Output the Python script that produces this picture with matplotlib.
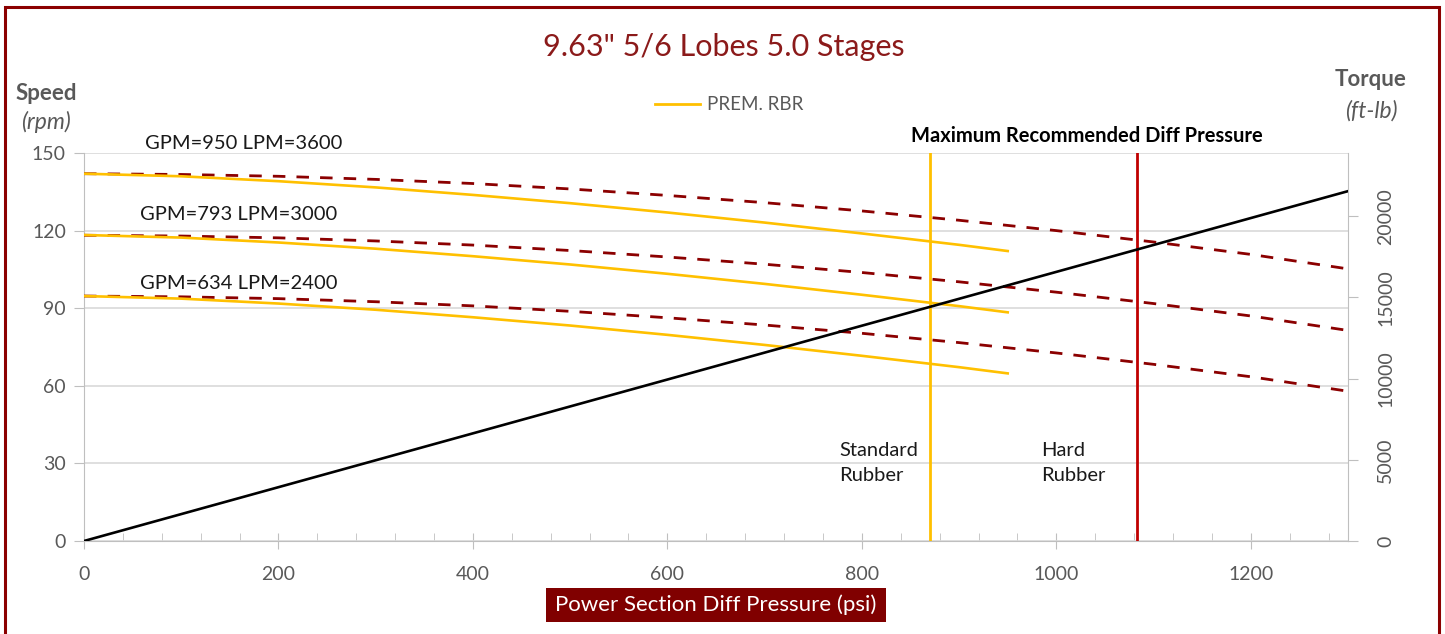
import matplotlib
matplotlib.use("Agg")
import matplotlib.pyplot as plt
from matplotlib.patches import Rectangle
from matplotlib.lines import Line2D
from matplotlib.ticker import MultipleLocator

# ---------------- data ----------------
pressure_full = [0, 100, 200, 300, 400, 500, 600, 700, 800, 900, 1000, 1100, 1200, 1300]
pressure_std = [0, 100, 200, 300, 400, 500, 600, 700, 800, 900, 950]

# hard rubber (dashed) speed curves, rpm
hard_950 = [142.0, 141.7, 141.0, 139.8, 138.2, 136.1, 133.6, 130.8, 127.6, 124.0, 120.0, 115.6, 110.8, 105.2]
hard_793 = [118.2, 117.9, 117.2, 116.0, 114.4, 112.3, 109.8, 107.0, 103.8, 100.2, 96.2, 91.8, 87.0, 81.4]
hard_634 = [94.7, 94.4, 93.7, 92.5, 90.9, 88.8, 86.3, 83.5, 80.3, 76.7, 72.7, 68.3, 63.5, 57.9]

# premium rubber (solid yellow) speed curves, rpm
prem_950 = [142.0, 141.0, 139.1, 136.7, 133.8, 130.6, 127.0, 123.1, 118.9, 114.5, 112.1]
prem_793 = [118.3, 117.3, 115.4, 113.0, 110.1, 106.9, 103.3, 99.4, 95.2, 90.8, 88.4]
prem_634 = [94.7, 93.7, 91.8, 89.4, 86.5, 83.3, 79.7, 75.8, 71.6, 67.2, 64.8]

# torque line
torque_pressure = [0, 1300]
torque_values = [0, 21550]

flow_labels = ["GPM=950 LPM=3600", "GPM=793 LPM=3000", "GPM=634 LPM=2400"]
std_limit = 870
hard_limit = 1083

speed_ticks = [0, 30, 60, 90, 120, 150]
torque_ticks = [0, 5000, 10000, 15000, 20000]
pressure_ticks = [0, 200, 400, 600, 800, 1000, 1200]

# ---------------- style ----------------
FONT = "Lato"
GRAY = "#595959"
YELLOW = "#FFC000"
DARKRED = "#8B0000"
RED = "#C00000"
MAROON = "#800000"
TITLE_C = "#8B1A1A"
TXT = "#1a1a1a"

W, H = 1445, 634
fig = plt.figure(figsize=(W / 100, H / 100), dpi=100)

def fx(px):
    return px / W

def fy(py):
    return 1 - py / H

ax = fig.add_axes([fx(84), fy(541), fx(1348) - fx(84), fy(153) - fy(541)])
ax2 = ax.twinx()

ax.set_xlim(0, 1300)
ax.set_ylim(0, 150)
ax2.set_ylim(0, 23900)

# gridlines
ax.set_yticks(speed_ticks)
ax.yaxis.grid(True, color="#D9D9D9", lw=1.2)
ax.set_axisbelow(True)

dash = (0, (4.5, 4.0))
for ys in (hard_950, hard_793, hard_634):
    ax.plot(pressure_full, ys, color=DARKRED, lw=2.0, linestyle=dash, zorder=3)
for ys in (prem_950, prem_793, prem_634):
    ax.plot(pressure_std, ys, color=YELLOW, lw=1.9, zorder=4)

ax.axvline(std_limit, color=YELLOW, lw=2.0, zorder=5)
ax.axvline(hard_limit, color=RED, lw=2.0, zorder=5)

ax2.plot(torque_pressure, torque_values, color="black", lw=1.9, zorder=6)

# spines & ticks
for a in (ax, ax2):
    for s in a.spines.values():
        s.set_visible(False)
ax.spines["left"].set_visible(True)
ax.spines["left"].set_color("#BFBFBF")
ax.spines["bottom"].set_visible(True)
ax.spines["bottom"].set_color("#BFBFBF")
ax2.spines["right"].set_visible(True)
ax2.spines["right"].set_color("#BFBFBF")

ax.set_xticks(pressure_ticks)
ax.xaxis.set_minor_locator(MultipleLocator(40))
ax.tick_params(axis="x", which="major", direction="inout", length=12, color="#BFBFBF",
               labelsize=14, labelcolor=GRAY, pad=12)
ax.tick_params(axis="x", which="minor", direction="in", length=6, color="#BFBFBF")
ax.tick_params(axis="y", direction="out", length=7, color="#BFBFBF",
               labelsize=14, labelcolor=GRAY, pad=6)
ax2.set_yticks(torque_ticks)
ax2.tick_params(axis="y", direction="out", length=7, color="#BFBFBF",
                labelsize=14, labelcolor=GRAY, pad=14)
for lab in ax.get_xticklabels() + ax.get_yticklabels():
    lab.set_fontfamily(FONT)
for lab in ax2.get_yticklabels():
    lab.set_fontfamily(FONT)
    lab.set_rotation(90)
    lab.set_va("center")

# flow labels
ax.text(63, 153.6, flow_labels[0], fontsize=14.5, family=FONT, color=TXT, va="center",
        clip_on=False)
ax.text(58, 126.4, flow_labels[1], fontsize=14.5, family=FONT, color=TXT, va="center")
ax.text(58, 99.7, flow_labels[2], fontsize=14.5, family=FONT, color=TXT, va="center")

ax.text(777, 30.2, "Standard\nRubber", fontsize=14.5, family=FONT, color=TXT,
        va="center", linespacing=1.55)
ax.text(984, 30.2, "Hard\nRubber", fontsize=14.5, family=FONT, color=TXT,
        va="center", linespacing=1.55)

# figure texts
fig.text(fx(724), fy(47), "9.63\" 5/6 Lobes 5.0 Stages", fontsize=22, family=FONT,
         color=TITLE_C, ha="center", va="center")
fig.text(fx(1087), fy(136), "Maximum Recommended Diff Pressure", fontsize=14.5,
         family=FONT, weight="bold", color="black", ha="center", va="center")
fig.text(fx(46), fy(93), "Speed", fontsize=16, family=FONT, weight="bold", color=GRAY,
         ha="center", va="center")
fig.text(fx(46), fy(122), "(rpm)", fontsize=16.5, family=FONT, style="italic", color=GRAY,
         ha="center", va="center")
fig.text(fx(1371), fy(80), "Torque", fontsize=16, family=FONT, weight="bold", color=GRAY,
         ha="center", va="center")
fig.text(fx(1371), fy(111), "(ft-lb)", fontsize=16.5, family=FONT, style="italic", color=GRAY,
         ha="center", va="center")

# legend
fig.add_artist(Line2D([fx(655), fx(700)], [fy(104), fy(104)], color=YELLOW, lw=2.0))
fig.text(fx(707), fy(104), "PREM. RBR", fontsize=13.5, family=FONT, color=GRAY,
         ha="left", va="center")

# x axis title box
fig.add_artist(Rectangle((fx(546), fy(622)), fx(886) - fx(546), fy(588) - fy(622),
                         transform=fig.transFigure, facecolor=MAROON, edgecolor="none"))
fig.text(fx(716), fy(605), "Power Section Diff Pressure (psi)", fontsize=16, family=FONT,
         color="white", ha="center", va="center")

# outer border
fig.add_artist(Rectangle((fx(5), fy(H + 20)), fx(1439) - fx(5), fy(7) - fy(H + 20),
                         transform=fig.transFigure, facecolor="none", edgecolor=DARKRED,
                         lw=2.2))

fig.savefig("out.png", dpi=100)
